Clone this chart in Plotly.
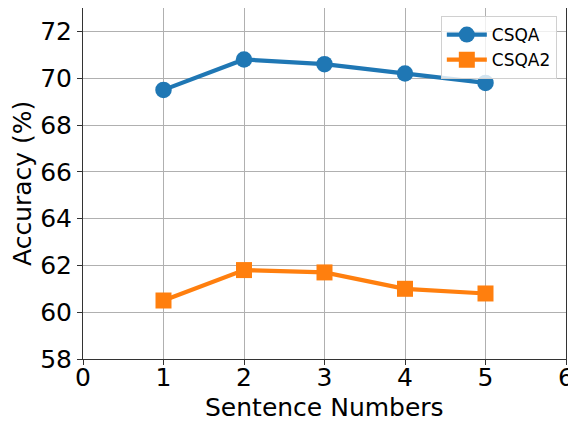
import plotly.graph_objects as go

sentence_numbers = [1, 2, 3, 4, 5]
csqa = [69.5, 70.8, 70.6, 70.2, 69.8]
csqa2 = [60.5, 61.8, 61.7, 61.0, 60.8]
x_ticks = [0, 1, 2, 3, 4, 5, 6]
y_ticks = [58, 60, 62, 64, 66, 68, 70, 72]

fig = go.Figure()
fig.add_trace(go.Scatter(x=sentence_numbers, y=csqa, name="CSQA", mode="lines+markers",
                         line=dict(color="#1f77b4", width=4.2),
                         marker=dict(symbol="circle", size=16.5, color="#1f77b4")))
fig.add_trace(go.Scatter(x=sentence_numbers, y=csqa2, name="CSQA2", mode="lines+markers",
                         line=dict(color="#ff7f0e", width=4.2),
                         marker=dict(symbol="square", size=16, color="#ff7f0e")))

axis_common = dict(showline=True, linecolor="#333333", linewidth=1, mirror=True,
                   showgrid=True, gridcolor="#b0b0b0", gridwidth=1,
                   ticks="outside", ticklen=5, tickcolor="#333333",
                   tickfont=dict(family="DejaVu Sans", size=25, color="black"),
                   zeroline=False, automargin=False)

# page body adds an 8px offset, so the figure is sized to fill the rest of the window
fig.update_layout(
    width=568, height=413,
    margin=dict(l=75, r=10, t=0, b=62),
    paper_bgcolor="white", plot_bgcolor="white",
    font=dict(family="DejaVu Sans", color="black"),
    xaxis=dict(range=[0, 6], tickvals=x_ticks, ticklabelstandoff=-9, **axis_common),
    yaxis=dict(range=[58, 73], tickvals=y_ticks, **axis_common),
    legend=dict(x=0.981, y=0.977, xanchor="right", yanchor="top",
                bgcolor="rgba(255,255,255,0.8)", bordercolor="#d0d0d0", borderwidth=1,
                font=dict(size=17), itemwidth=40, tracegroupgap=0),
    showlegend=True,
    annotations=[
        dict(text="Sentence Numbers", xref="paper", yref="paper", x=0.5, y=0,
             xanchor="center", yanchor="middle", yshift=-48, showarrow=False,
             height=28, valign="middle",
             font=dict(size=25, color="black")),
        dict(text="Accuracy (%)", xref="paper", yref="paper", x=0, y=0.5,
             xanchor="center", yanchor="middle", xshift=-60.5, textangle=-90,
             showarrow=False, font=dict(size=25, color="black")),
    ],
)

fig.write_html("out.html")
